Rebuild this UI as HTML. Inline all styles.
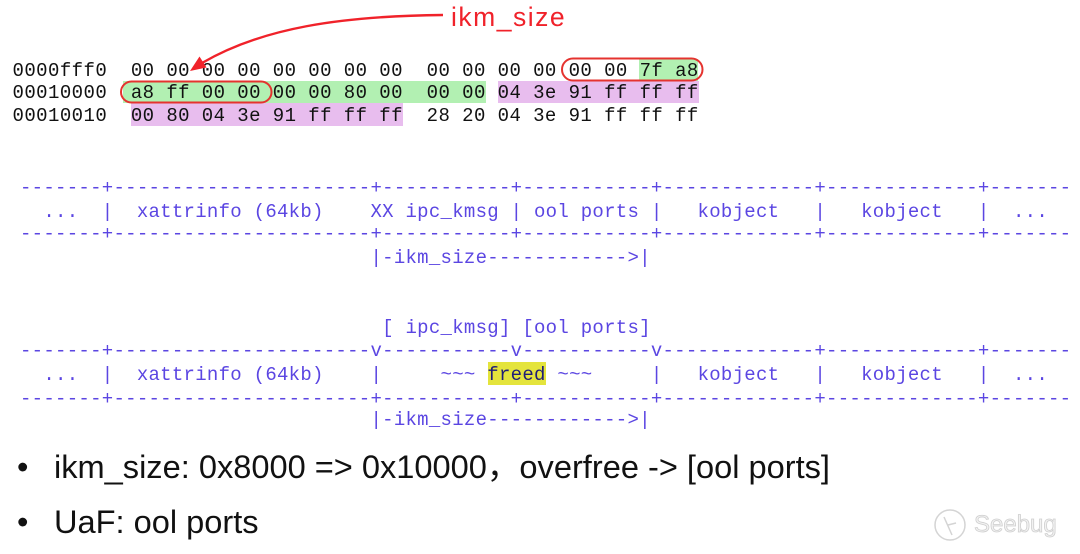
<!DOCTYPE html>
<html>
<head>
<meta charset="utf-8">
<style>
  html, body { margin:0; padding:0; background:#fff; }
  body { width:1080px; height:554px; position:relative; overflow:hidden; }
  .hx { position:absolute; left:12.5px; font-family:"Liberation Mono", monospace; font-size:19px; line-height:19px; letter-spacing:0.43px; white-space:pre; color:#111; }
  .dg { position:absolute; left:20px; font-family:"Liberation Mono", monospace; font-size:19px; line-height:19px; letter-spacing:0.28px; white-space:pre; color:#5b46e2; }
  .hl { position:absolute; }
  .g { background:#b2f0b2; }
  .p { background:#e8bdee; }
  .bl { position:absolute; font-family:"Liberation Sans", "Noto Sans CJK SC", sans-serif; font-size:32.6px; line-height:32px; color:#111; white-space:pre; }
</style>
</head>
<body>
<!-- hex highlights -->
<div class="hl g" style="left:639px; top:58.5px; width:59px; height:22px;"></div>
<div class="hl g" style="left:123px; top:80.8px; width:362.5px; height:22.5px;"></div>
<div class="hl p" style="left:497.5px; top:80.8px; width:201px; height:22.5px;"></div>
<div class="hl p" style="left:130.5px; top:103.3px; width:272.5px; height:22.5px;"></div>

<!-- hex text -->
<div class="hx" style="top:61.6px;">0000fff0  00 00 00 00 00 00 00 00  00 00 00 00 00 00 7f a8</div>
<div class="hx" style="top:84.1px;">00010000  a8 ff 00 00 00 00 80 00  00 00 04 3e 91 ff ff ff</div>
<div class="hx" style="top:106.6px;">00010010  00 80 04 3e 91 ff ff ff  28 20 04 3e 91 ff ff ff</div>

<!-- red annotation -->
<svg style="position:absolute; left:0; top:0;" width="1080" height="140" viewBox="0 0 1080 140">
  <rect x="562" y="58.5" width="140.5" height="22" rx="11" ry="11" fill="none" stroke="#e5332f" stroke-width="2"/>
  <rect x="121" y="81.5" width="150.5" height="21" rx="10.5" ry="10.5" fill="none" stroke="#e5332f" stroke-width="2"/>
  <path d="M 443 15 C 340 16, 262 28, 202 63" fill="none" stroke="#f0222a" stroke-width="2.4"/>
  <polygon points="190,71 206.5,67.5 199.5,56.5" fill="#f0222a"/>
</svg>
<div style="position:absolute; left:451px; top:1px; font-family:'Liberation Sans', sans-serif; font-size:26.5px; line-height:32px; letter-spacing:1.5px; color:#f0222a;">ikm_size</div>

<!-- diagram 1 -->
<div class="dg" style="top:179.3px;">-------+----------------------+-----------+-----------+-------------+-------------+-------</div>
<div class="dg" style="top:203px;">  ...  |  xattrinfo (64kb)    XX ipc_kmsg | ool ports |   kobject   |   kobject   |  ...</div>
<div class="dg" style="top:224.5px;">-------+----------------------+-----------+-----------+-------------+-------------+-------</div>
<div class="dg" style="top:248.5px;">                              |-ikm_size------------&gt;|</div>

<!-- diagram 2 -->
<div class="dg" style="top:318.7px;">                               [ ipc_kmsg] [ool ports]</div>
<div class="dg" style="top:342px;">-------+----------------------v-----------v-----------v-------------+-------------+-------</div>
<div class="hl" style="left:488px; top:361.5px; width:58px; height:23px; background:#e4e43c;"></div>
<div class="dg" style="top:365.5px;">  ...  |  xattrinfo (64kb)    |     ~~~ <span style="color:#1f1d78;">freed</span> ~~~     |   kobject   |   kobject   |  ...</div>
<div class="dg" style="top:389.5px;">-------+----------------------+-----------+-----------+-------------+-------------+-------</div>
<div class="dg" style="top:411.2px;">                              |-ikm_size------------&gt;|</div>

<!-- bullets -->
<div class="bl" style="left:17px; top:451px;">•</div>
<div class="bl" style="left:54px; top:451px;">ikm_size: 0x8000 =&gt; 0x10000，overfree -&gt; [ool ports]</div>
<div class="bl" style="left:17px; top:506px;">•</div>
<div class="bl" style="left:54px; top:506px;">UaF: ool ports</div>

<!-- watermark -->
<svg style="position:absolute; left:930px; top:505px;" width="140" height="45" viewBox="0 0 140 45">
  <circle cx="20" cy="20" r="15" fill="none" stroke="#d4d4d4" stroke-width="1.5"/>
  <path d="M 14 12 L 22 30 M 18 20 L 26 18" fill="none" stroke="#d4d4d4" stroke-width="1.5"/>
  <text x="44" y="27" font-family="Liberation Sans, sans-serif" font-size="24" fill="#f2f2f2" stroke="#cfcfcf" stroke-width="0.8">Seebug</text>
</svg>
</body>
</html>
